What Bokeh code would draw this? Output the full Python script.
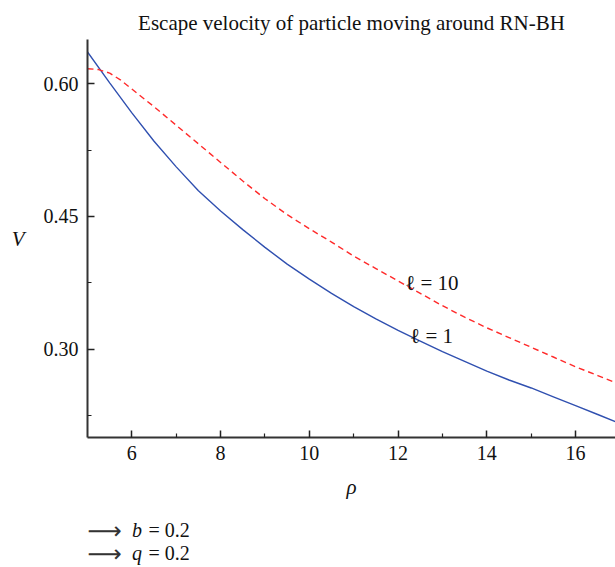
from bokeh.plotting import figure
from bokeh.embed import file_html
from bokeh.resources import INLINE
from bokeh.layouts import column
from bokeh.models import Range1d, FixedTicker, PrintfTickFormatter, Label

# ---- data ----
rho_l1 = [5.0, 5.5, 6.0, 6.5, 7.0, 7.5, 8.0, 8.5, 9.0, 9.5, 10.0, 10.5, 11.0, 11.5, 12.0,
          12.5, 13.0, 13.5, 14.0, 14.5, 15.0, 15.5, 16.0, 16.5, 17.0]
v_l1 = [0.636, 0.601, 0.567, 0.535, 0.506, 0.479, 0.456, 0.435, 0.415, 0.396, 0.379, 0.363,
        0.348, 0.334, 0.321, 0.309, 0.297, 0.286, 0.275, 0.265, 0.256, 0.246, 0.236, 0.226, 0.216]

rho_l10 = [5.0, 5.25, 5.5, 5.75, 6.0, 6.5, 7.0, 7.5, 8.0, 8.5, 9.0, 9.5, 10.0, 10.5, 11.0,
           11.5, 12.0, 12.5, 13.0, 13.5, 14.0, 14.5, 15.0, 15.5, 16.0, 16.5, 17.0]
v_l10 = [0.617, 0.616, 0.612, 0.604, 0.594, 0.574, 0.553, 0.532, 0.511, 0.490, 0.470, 0.452,
         0.436, 0.421, 0.405, 0.391, 0.377, 0.363, 0.349, 0.336, 0.324, 0.313, 0.302, 0.291,
         0.280, 0.270, 0.260]

x_major = [6, 8, 10, 12, 14, 16]
x_minor = [7, 9, 11, 13, 15]
y_major = [0.30, 0.45, 0.60]
y_minor = [0.225, 0.375, 0.525]

title_text = "Escape velocity of particle moving around RN-BH"
label_l10 = "\u2113 = 10"
label_l1 = "\u2113 = 1"
params = [("b", "= 0.2"), ("q", "= 0.2")]

FONT = "Liberation Serif"
BLUE = "#3050B0"
RED = "#FF2A2A"
TXT = "#111111"

p = figure(width=615, height=505, output_backend="svg", toolbar_location=None,
           x_range=Range1d(5, 16.9), y_range=Range1d(0.2, 0.65),
           min_border_left=87, min_border_right=0, min_border_top=39, min_border_bottom=68,
           title=title_text)

p.title.text_font = FONT
p.title.text_font_size = "21px"
p.title.text_font_style = "normal"
p.title.align = "center"
p.title.text_color = TXT
p.title.standoff = 9

p.outline_line_color = None
p.xgrid.visible = False
p.ygrid.visible = False

for ax in (p.xaxis[0], p.yaxis[0]):
    ax.axis_line_color = "#333333"
    ax.axis_line_width = 2
    ax.major_tick_line_color = "#222222"
    ax.minor_tick_line_color = "#222222"
    ax.major_tick_line_width = 1.5
    ax.minor_tick_line_width = 1.2
    ax.major_tick_in = 7
    ax.major_tick_out = 0
    ax.minor_tick_in = 4
    ax.minor_tick_out = 0
    ax.major_label_text_font = FONT
    ax.major_label_text_font_size = "20px"
    ax.major_label_text_color = TXT
    ax.axis_label_text_font = FONT
    ax.axis_label_text_font_size = "21px"
    ax.axis_label_text_font_style = "italic"
    ax.axis_label_text_color = TXT

p.xaxis.ticker = FixedTicker(ticks=x_major, minor_ticks=x_minor)
p.yaxis.ticker = FixedTicker(ticks=y_major, minor_ticks=y_minor)
p.yaxis.formatter = PrintfTickFormatter(format="%.2f")
p.xaxis.axis_label = "\u03c1"
p.yaxis.axis_label = "V"
p.yaxis.axis_label_orientation = "horizontal"
p.xaxis.major_label_standoff = 8
p.xaxis.axis_label_standoff = 12
p.yaxis.major_label_standoff = 9
p.yaxis.axis_label_standoff = 16

p.line(rho_l1, v_l1, line_color=BLUE, line_width=1.4)
p.line(rho_l10, v_l10, line_color=RED, line_width=1.4, line_dash="6 4")

p.add_layout(Label(x=12.16, y=0.3744, text=label_l10, text_font=FONT,
                   text_font_size="21px", text_baseline="alphabetic", text_color=TXT))
p.add_layout(Label(x=12.27, y=0.3142, text=label_l1, text_font=FONT,
                   text_font_size="21px", text_baseline="alphabetic", text_color=TXT))

# strip below the chart with the parameter notes (frame aligned with the chart's frame)
p2 = figure(width=615, height=62, output_backend="svg", toolbar_location=None,
            x_range=Range1d(87, 615), y_range=Range1d(0, 62),
            x_axis_location=None, y_axis_location=None,
            min_border_left=0, min_border_right=0, min_border_top=0, min_border_bottom=0)
p2.outline_line_color = None
p2.xgrid.visible = False
p2.ygrid.visible = False

for yy, (var, rest) in zip([38, 15], params):
    p2.add_layout(Label(x=87, y=yy - 1, text="\u27f6", text_font="DejaVu Sans",
                        text_font_size="24px", text_baseline="middle", text_color="#333333"))
    p2.add_layout(Label(x=131.5, y=yy, text=var, text_font=FONT, text_font_style="italic",
                        text_font_size="20px", text_baseline="alphabetic", text_color=TXT))
    p2.add_layout(Label(x=148, y=yy, text=rest, text_font=FONT,
                        text_font_size="20px", text_baseline="alphabetic", text_color=TXT))

layout = column(p, p2, spacing=0)
open("out.html", "w").write(file_html(layout, INLINE))
